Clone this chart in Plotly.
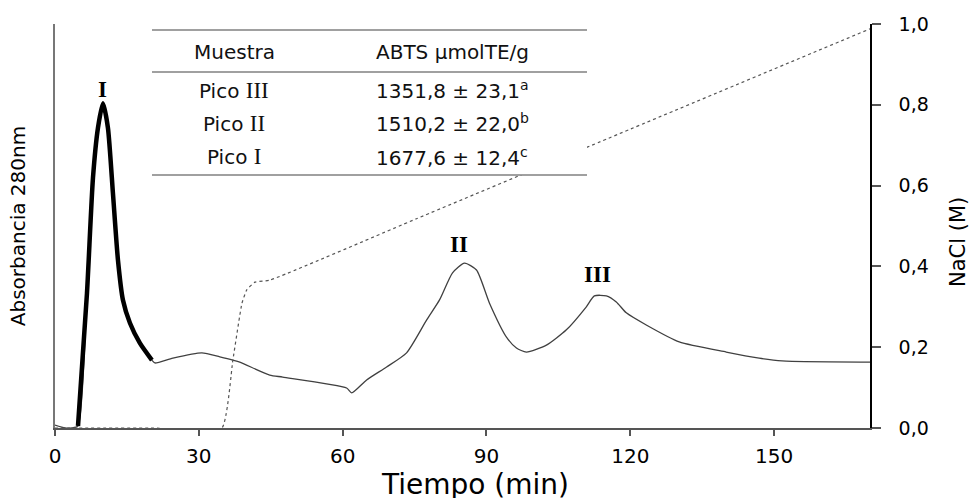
import plotly.graph_objects as go

# ---- data ----
tiempo_abs = [0, 2.1, 3.5, 4.8, 6.67, 7.92, 8.96, 10.0, 11.04, 12.08, 13.13, 14.17, 15.63, 17.71, 20.21,
              20.83, 24.58, 30.63, 34.38, 37.08, 38.54, 44.79, 47.5, 60.83, 61.88, 65.0, 69.17, 73.33,
              77.5, 80.21, 82.92, 85.42, 87.92, 90.63, 94.17, 96.25, 98.33, 102.5, 106.67, 110.83,
              112.5, 115.0, 117.08, 119.17, 123.33, 130.21, 140.0, 146.88, 151.67, 170.0]
absorbancia = [0.007, 0.0, 0.0, 0.005, 0.334, 0.619, 0.743, 0.804, 0.743, 0.582, 0.416, 0.317, 0.260, 0.210, 0.168,
               0.161, 0.173, 0.186, 0.176, 0.168, 0.163, 0.131, 0.126, 0.099, 0.087, 0.119, 0.151, 0.186,
               0.267, 0.317, 0.384, 0.408, 0.391, 0.309, 0.225, 0.198, 0.188, 0.205, 0.243, 0.300,
               0.327, 0.327, 0.312, 0.285, 0.255, 0.213, 0.188, 0.173, 0.166, 0.163]
pico_I_inicio, pico_I_fin = 4.8, 20.21

tiempo_nacl = [0, 20, 34.8, 37.1, 39.0, 40.0, 41.7, 44.8, 75.4, 110.8, 170.0]
nacl = [0, 0, 0, 0.168, 0.309, 0.342, 0.361, 0.366, 0.518, 0.694, 0.988]

x_ticks = [0, 30, 60, 90, 120, 150]
y2_ticks = [0, 0.2, 0.4, 0.6, 0.8, 1.0]
y2_ticktext = ["0,0", "0,2", "0,4", "0,6", "0,8", "1,0"]

picos = ["I", "II", "III"]
picos_x = [10.0, 84.2, 113.1]
picos_y = [0.839, 0.453, 0.381]

tabla_encabezado = ["Muestra", "ABTS µmolTE/g"]
tabla_muestras = ["III", "II", "I"]
tabla_valores = ["1351,8 ± 23,1", "1510,2 ± 22,0", "1677,6 ± 12,4"]
tabla_letras = ["a", "b", "c"]

SANS = "DejaVu Sans"
SERIF = "Liberation Serif"

fig = go.Figure()

fig.add_trace(go.Scatter(
    x=tiempo_abs, y=absorbancia, mode="lines", yaxis="y",
    line=dict(color="#404040", width=1.3, shape="spline", smoothing=0.6),
    hoverinfo="skip", showlegend=False))

tI = [t for t in tiempo_abs if pico_I_inicio <= t <= pico_I_fin]
aI = [a for t, a in zip(tiempo_abs, absorbancia) if pico_I_inicio <= t <= pico_I_fin]
fig.add_trace(go.Scatter(
    x=tI, y=aI, mode="lines", yaxis="y",
    line=dict(color="#000000", width=4.5, shape="spline", smoothing=0.6),
    hoverinfo="skip", showlegend=False))

fig.add_trace(go.Scatter(
    x=tiempo_nacl, y=nacl, mode="lines", yaxis="y2",
    line=dict(color="#555555", width=1.2, dash="dot", shape="spline", smoothing=0.4),
    hoverinfo="skip", showlegend=False))

# table background and rules
L, W, B, H = 55, 815, 428, 404
def px(x):
    return (x - L) / W
def py(y):
    return (B - y) / H

shapes = [
    dict(type="rect", xref="paper", yref="paper", x0=px(152), x1=px(587), y0=py(175), y1=py(30),
         fillcolor="white", line=dict(width=0), layer="above"),
]
for yy in [30, 72, 175]:
    shapes.append(dict(type="line", xref="paper", yref="paper", x0=px(152), x1=px(587),
                       y0=py(yy), y1=py(yy), line=dict(color="#808080", width=1.5), layer="above"))

annotations = []
col1, col2 = px(234), px(452)
tf = dict(family=SANS, size=20, color="#111")
annotations.append(dict(x=col1, y=py(52), xref="paper", yref="paper", text=tabla_encabezado[0],
                        xanchor="center", yanchor="middle", showarrow=False, font=tf))
annotations.append(dict(x=col2, y=py(52), xref="paper", yref="paper", text=tabla_encabezado[1],
                        xanchor="center", yanchor="middle", showarrow=False, font=tf))
for row_y, m, v, l in zip([90, 123, 157], tabla_muestras, tabla_valores, tabla_letras):
    annotations.append(dict(x=col1, y=py(row_y), xref="paper", yref="paper",
                            text="Pico <span style='font-family:%s;font-size:23px'>%s</span>" % (SERIF, m),
                            xanchor="center", yanchor="middle", showarrow=False, font=tf))
    annotations.append(dict(x=col2, y=py(row_y), xref="paper", yref="paper",
                            text="%s<sup>%s</sup>" % (v, l),
                            xanchor="center", yanchor="middle", showarrow=False, font=tf))

for p, xx, yy in zip(picos, picos_x, picos_y):
    annotations.append(dict(x=xx, y=yy, xref="x", yref="y", text="<b>%s</b>" % p, showarrow=False,
                            xanchor="center", yanchor="middle",
                            font=dict(family=SERIF, size=23, color="#000")))

# axis titles placed where the reference shows them
annotations.append(dict(x=px(958), y=py(242), xref="paper", yref="paper", text="NaCl (M)",
                        textangle=-90, xanchor="center", yanchor="middle", showarrow=False,
                        font=dict(family=SANS, size=21, color="#000")))
annotations.append(dict(x=px(475), y=py(485), xref="paper", yref="paper", text="Tiempo (min)",
                        xanchor="center", yanchor="middle", showarrow=False,
                        font=dict(family=SANS, size=28, color="#000")))

fig.update_layout(
    width=976, height=498,
    margin=dict(l=55, r=106, t=24, b=70, autoexpand=False),
    paper_bgcolor="white", plot_bgcolor="white",
    shapes=shapes, annotations=annotations,
    xaxis=dict(range=[0, 170], tickvals=x_ticks, ticks="outside", ticklen=6, tickwidth=1.5,
               tickcolor="#555", showline=True, linecolor="#555", linewidth=1.5, showgrid=False,
               zeroline=False, tickfont=dict(family=SANS, size=20, color="#000"),
               ticklabelstandoff=3, automargin=False),
    yaxis=dict(range=[0, 1], showticklabels=False, ticks="", showline=True, linecolor="#777",
               linewidth=2, showgrid=False, zeroline=False, automargin=False,
               title=dict(text="Absorbancia 280nm", font=dict(family=SANS, size=20, color="#000"),
                          standoff=22)),
    yaxis2=dict(range=[0, 1], overlaying="y", side="right", tickvals=y2_ticks, ticktext=y2_ticktext,
                ticks="outside", ticklen=9, tickwidth=1.5, tickcolor="#555", showline=True,
                linecolor="#000", linewidth=1.5, showgrid=False, zeroline=False, automargin=False,
                tickfont=dict(family=SANS, size=19, color="#000"), ticklabelstandoff=14),
)

fig.write_html("out.html", config={"displayModeBar": False},
               post_script="document.body.style.margin='0';document.body.style.overflow='hidden';")
